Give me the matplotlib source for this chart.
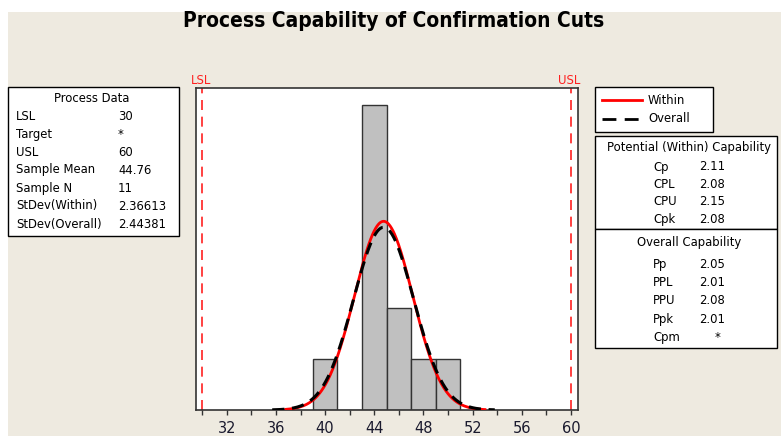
import numpy as np
import matplotlib
matplotlib.use("Agg")
import matplotlib.pyplot as plt
from matplotlib.patches import Rectangle
from matplotlib.lines import Line2D

# ---------------- data ----------------
bin_edges = [39, 41, 43, 45, 47, 49, 51]
bin_counts = [1, 0, 6, 2, 1, 1]
LSL, USL = 30, 60
sample_mean = 44.76
sample_n = 11
sd_within = 2.36613
sd_overall = 2.44381

process_labels = ["LSL", "Target", "USL", "Sample Mean", "Sample N", "StDev(Within)", "StDev(Overall)"]
process_values = ["30", "*", "60", "44.76", "11", "2.36613", "2.44381"]
within_labels = ["Cp", "CPL", "CPU", "Cpk"]
within_values = ["2.11", "2.08", "2.15", "2.08"]
overall_labels = ["Pp", "PPL", "PPU", "Ppk", "Cpm"]
overall_values = ["2.05", "2.01", "2.08", "2.01", "*"]
xticks_major = [32, 36, 40, 44, 48, 52, 56, 60]

# ---------------- figure ----------------
W, H = 781, 436
fig = plt.figure(figsize=(W / 100, H / 100), dpi=100)
fig.patch.set_facecolor("white")
BG = "#EEEAE0"

def fx(x):
    return x / W

def fy(y):
    return 1 - y / H

fig.patches.append(Rectangle((fx(8), 0), 1, fy(12), transform=fig.transFigure,
                             facecolor=BG, edgecolor="none", zorder=-10))

# axes
ax_l, ax_r, ax_t, ax_b = 196, 578, 88, 410
ax = fig.add_axes([fx(ax_l), fy(ax_b), (ax_r - ax_l) / W, (ax_b - ax_t) / H])
ax.set_facecolor("white")

widths = np.diff(bin_edges)
ax.bar(bin_edges[:-1], bin_counts, width=widths, align="edge",
       color="#C0C0C0", edgecolor="#333333", linewidth=1.0, zorder=2)

binw = widths[0]
def normal_curve(xs, mu, sd):
    return sample_n * binw * np.exp(-0.5 * ((xs - mu) / sd) ** 2) / (sd * np.sqrt(2 * np.pi))

xr = np.linspace(36.8, 53.0, 400)
xb = np.linspace(35.7, 53.8, 400)
ax.plot(xr, normal_curve(xr, sample_mean, sd_within), color="#FF0000", lw=2.0, zorder=3)
ax.plot(xb, normal_curve(xb, sample_mean, sd_overall), color="black", lw=2.2,
        dashes=(4, 2.5), zorder=4)

for v in (LSL, USL):
    ax.axvline(v, color="#FF2020", lw=1.2, dashes=(6, 4), zorder=1)

ax.set_xlim(29.5, 60.57)
ax.set_ylim(0, 6.33)
ax.set_yticks([])
ax.set_xticks(xticks_major)
ax.set_xticks(np.arange(30, 61, 2), minor=True)
ax.tick_params(axis="x", which="both", direction="out", length=3.8, width=1, color="#333333")
ax.tick_params(axis="x", which="major", labelsize=10.5, labelcolor="#1a1a2e", pad=4.3)
for s in ax.spines.values():
    s.set_color("#333333")
    s.set_linewidth(1.2)

# LSL / USL labels
fig.text(fx(201), fy(81), "LSL", color="#FF2020", fontsize=8.5, ha="center", va="center")
fig.text(fx(569), fy(81), "USL", color="#FF2020", fontsize=8.5, ha="center", va="center")

# title
fig.text(fx(394), fy(27.3), "Process Capability of Confirmation Cuts",
         fontsize=15, fontweight="bold", fontstretch="condensed", family="DejaVu Sans",
         ha="center", va="baseline", color="black")

def box(x0, y0, x1, y1):
    fig.patches.append(Rectangle((fx(x0), fy(y1)), (x1 - x0) / W, (y1 - y0) / H,
                                 transform=fig.transFigure, facecolor="white",
                                 edgecolor="black", linewidth=1.0, zorder=1))

TXT = dict(fontsize=8.4, va="center", color="black")

# Process data box
box(8, 87, 179, 236)
fig.text(fx(92), fy(99), "Process Data", ha="center", **TXT)
for i, (lab, val) in enumerate(zip(process_labels, process_values)):
    y = 116 + 18 * i
    fig.text(fx(16), fy(y), lab, ha="left", **TXT)
    fig.text(fx(118), fy(y), val, ha="left", **TXT)

# legend box
box(595, 87, 713, 132)
fig.lines.append(Line2D([fx(602), fx(642)], [fy(100), fy(100)], transform=fig.transFigure,
                        color="#FF0000", lw=2))
fig.lines.append(Line2D([fx(602), fx(642)], [fy(119), fy(119)], transform=fig.transFigure,
                        color="black", lw=2, dashes=(5, 3)))
fig.text(fx(648), fy(100), "Within", ha="left", **TXT)
fig.text(fx(648), fy(119), "Overall", ha="left", **TXT)

# capability box
box(595, 136, 777, 229)
box(595, 229, 777, 348)
fig.text(fx(689), fy(148), "Potential (Within) Capability", ha="center", **TXT)
for i, (lab, val) in enumerate(zip(within_labels, within_values)):
    y = 167 + 17.4 * i
    fig.text(fx(653), fy(y), lab, ha="left", **TXT)
    fig.text(fx(699), fy(y), val, ha="left", **TXT)
fig.text(fx(689), fy(242), "Overall Capability", ha="center", **TXT)
for i, (lab, val) in enumerate(zip(overall_labels, overall_values)):
    y = 264 + 18.4 * i
    fig.text(fx(653), fy(y), lab, ha="left", **TXT)
    if val == "*":
        fig.text(fx(718), fy(y), val, ha="center", **TXT)
    else:
        fig.text(fx(699), fy(y), val, ha="left", **TXT)

fig.savefig("out.png", dpi=100, facecolor=fig.get_facecolor())
